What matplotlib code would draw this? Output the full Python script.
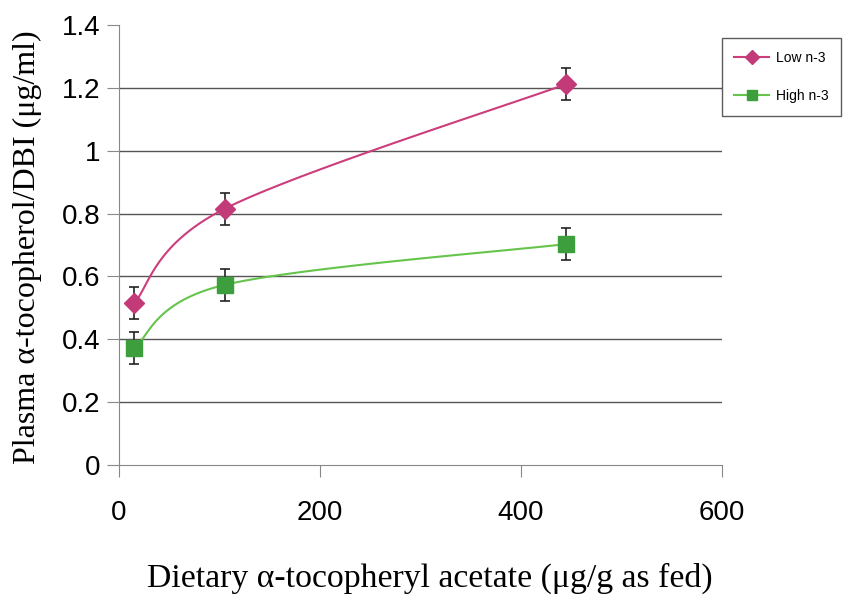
import numpy as np
import matplotlib
matplotlib.use("Agg")
import matplotlib.pyplot as plt

# values
dose = [15, 105, 445]
low_n3 = [0.515, 0.815, 1.212]
low_err = [0.05, 0.05, 0.05]
high_n3 = [0.372, 0.573, 0.703]
high_err = [0.05, 0.05, 0.05]
series_names = ["Low n-3", "High n-3"]
x_ticks = [0, 200, 400, 600]
y_ticks = [0, 0.2, 0.4, 0.6, 0.8, 1.0, 1.2, 1.4]
y_tick_labels = ["0", "0.2", "0.4", "0.6", "0.8", "1", "1.2", "1.4"]


def smooth(xs, ys, n=40):
    # spreadsheet-style smoothed line: cubic bezier through the points
    xs = np.asarray(xs, float)
    ys = np.asarray(ys, float)
    px = np.concatenate([[xs[0]], xs, [xs[-1]]])
    py = np.concatenate([[ys[0]], ys, [ys[-1]]])
    out_x, out_y = [], []
    t = np.linspace(0, 1, n)
    for i in range(1, len(px) - 2):
        p0 = np.array([px[i], py[i]])
        p3 = np.array([px[i + 1], py[i + 1]])
        p1 = p0 + (np.array([px[i + 1], py[i + 1]]) - np.array([px[i - 1], py[i - 1]])) / 6
        p2 = p3 - (np.array([px[i + 2], py[i + 2]]) - np.array([px[i], py[i]])) / 6
        b = ((1 - t) ** 3)[:, None] * p0 + (3 * (1 - t) ** 2 * t)[:, None] * p1 \
            + (3 * (1 - t) * t ** 2)[:, None] * p2 + (t ** 3)[:, None] * p3
        out_x.extend(b[:, 0])
        out_y.extend(b[:, 1])
    return out_x, out_y


fig = plt.figure(figsize=(8.66, 6.07), dpi=100)
ax = fig.add_axes([0.1374, 0.234, 0.6963, 0.7248])

low_line = "#cc3d7c"
low_mark = "#c23a78"
high_line = "#66c44c"
high_mark = "#3d9e3d"

sx, sy = smooth(dose, low_n3)
ax.plot(sx, sy, color=low_line, lw=1.5, zorder=3)
sx, sy = smooth(dose, high_n3)
ax.plot(sx, sy, color=high_line, lw=1.5, zorder=3)

ax.errorbar(dose, low_n3, yerr=low_err, fmt="none", ecolor="#222222",
            elinewidth=1.2, capsize=3.5, capthick=1.2, zorder=4)
ax.errorbar(dose, high_n3, yerr=high_err, fmt="none", ecolor="#222222",
            elinewidth=1.2, capsize=3.5, capthick=1.2, zorder=4)
ax.plot(dose, low_n3, "D", color=low_mark, ms=10, mec=low_mark, zorder=5)
ax.plot(dose, high_n3, "s", color=high_mark, ms=11, mec=high_mark, zorder=5)

# legend proxies
h1, = ax.plot([], [], color=low_line, marker="D", mfc=low_mark, mec=low_mark, ms=7, lw=1.5)
h2, = ax.plot([], [], color=high_line, marker="s", mfc=high_mark, mec=high_mark, ms=7, lw=1.5)
leg = ax.legend([h1, h2], series_names, loc="upper left", bbox_to_anchor=(1.0, 0.97),
                frameon=True, fancybox=False, prop={"family": "Liberation Sans", "size": 10},
                handlelength=2.5, handletextpad=0.5, borderpad=0.9, labelspacing=1.75,
                borderaxespad=0)
leg.get_frame().set_edgecolor("#333333")
leg.get_frame().set_linewidth(1.0)

ax.set_xlim(0, 600)
ax.set_ylim(0, 1.4)
ax.set_xticks(x_ticks)
ax.set_yticks(y_ticks)
ax.set_yticklabels(y_tick_labels)
for lab in ax.get_xticklabels() + ax.get_yticklabels():
    lab.set_fontfamily("Liberation Sans")
    lab.set_fontsize(20)
ax.tick_params(axis="both", direction="out", length=8.5, width=0.8, color="#888888")
ax.tick_params(axis="x", pad=17)
ax.tick_params(axis="y", pad=5)

for y in y_ticks[1:-1]:
    ax.axhline(y, color="#555555", lw=1.0, zorder=1)
for side in ["top", "right"]:
    ax.spines[side].set_visible(False)
ax.spines["left"].set_color("#888888")
ax.spines["bottom"].set_color("#888888")

ax.set_ylabel("Plasma \u03b1-tocopherol/DBI (\u03bcg/ml)", family="Liberation Serif",
              fontsize=23)
ax.yaxis.set_label_coords(-0.128, 0.495)
ax.set_xlabel("Dietary \u03b1-tocopheryl acetate (\u03bcg/g as fed)", family="Liberation Serif",
              fontsize=24.3)
ax.xaxis.set_label_coords(0.515, -0.222)

fig.savefig("out.png", dpi=100)
